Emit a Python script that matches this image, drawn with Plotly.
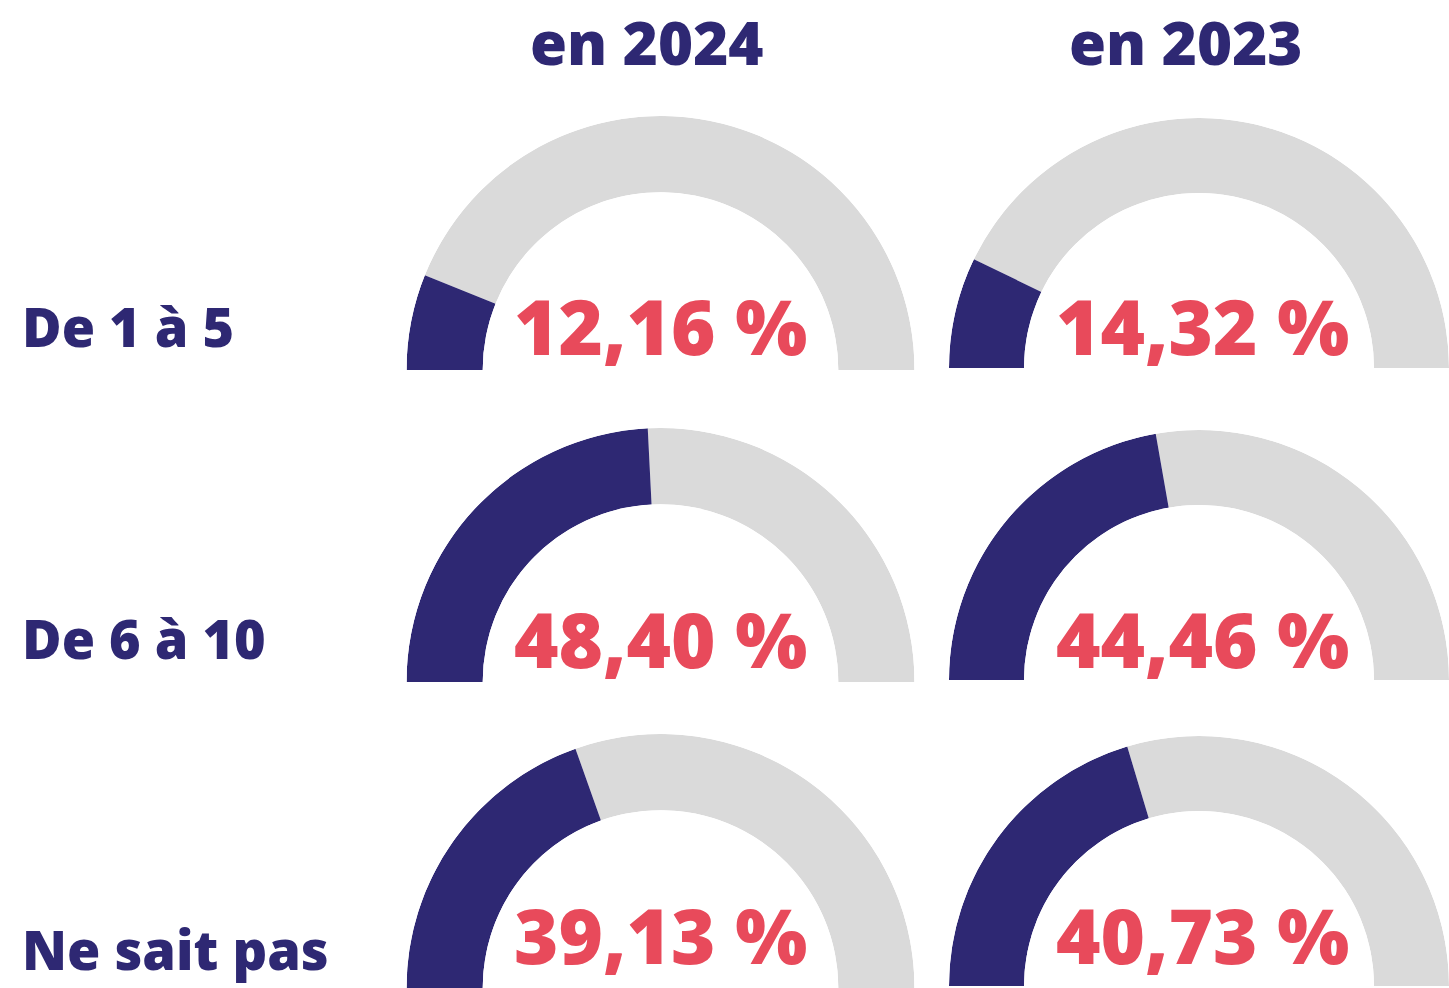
import plotly.graph_objects as go

# ---- data ----
row_labels = ["De 1 à 5", "De 6 à 10", "Ne sait pas"]
col_titles = ["en 2024", "en 2023"]
values_2024 = [12.16, 48.40, 39.13]
values_2023 = [14.32, 44.46, 40.73]

# ---- style / layout constants ----
W, H = 1449, 988
NAVY = "#2E2873"
RED = "#E84A5B"
GREY = "#DADADA"
FONT = "Open Sans"

col_x = [(406.5, 914.5), (949.0, 1449.0)]      # gauge horizontal extents (px)
row_base = [370.0, 682.0, 988.0]                # gauge baseline (px)
radius = 254.0
label_y = [326, 638, None]
title_x = [647, 1186]
title_y = 42
pct_x = [660, 1202]
pct_y = [326, 638, None]


def px_x(x):
    return x / W


def px_y(y):
    return 1 - y / H


fig = go.Figure()
series = [values_2024, values_2023]
k = 0
for c, vals in enumerate(series):
    for r, v in enumerate(vals):
        k += 1
        pname = "polar" if k == 1 else f"polar{k}"
        x0, x1 = col_x[c]
        y1 = row_base[r]
        y0 = max(y1 - radius, 0)
        # value arc from the left end, rest in grey
        span = 1.8 * v
        fig.add_trace(go.Barpolar(
            r=[1], theta=[(180 - span) / 2], width=[180 - span], base=[0],
            marker=dict(color=GREY, line=dict(width=0)),
            subplot=pname, showlegend=False, hoverinfo="skip"))
        fig.add_trace(go.Barpolar(
            r=[1], theta=[180 - span / 2], width=[span], base=[0],
            marker=dict(color=NAVY, line=dict(width=0)),
            subplot=pname, showlegend=False, hovertemplate=f"{v:.2f} %<extra></extra>"))
        fig.update_layout(**{pname: dict(
            domain=dict(x=[px_x(x0), px_x(x1)], y=[px_y(y1), px_y(y0)]),
            sector=[0, 180], hole=0.70, bgcolor="rgba(0,0,0,0)",
            barmode="overlay",
            radialaxis=dict(visible=False, range=[0, 1]),
            angularaxis=dict(visible=False, rotation=0, direction="counterclockwise"),
        )})
        if pct_y[r] is None:
            ay, yanc = 0, "bottom"
        else:
            ay, yanc = px_y(pct_y[r]), "middle"
        fig.add_annotation(
            x=px_x(pct_x[c]), y=ay, xref="paper", yref="paper",
            text=f"{v:.2f}".replace(".", ",") + " %", showarrow=False,
            xanchor="center", yanchor=yanc,
            font=dict(family=FONT, size=76, color=RED, weight=800))

for r, lab in enumerate(row_labels):
    if label_y[r] is None:
        ay, yanc = 0, "bottom"
    else:
        ay, yanc = px_y(label_y[r]), "middle"
    fig.add_annotation(
        x=px_x(20), y=ay, xref="paper", yref="paper",
        text=lab, showarrow=False, xanchor="left", yanchor=yanc,
        font=dict(family=FONT, size=54, color=NAVY, weight=800))

for c, t in enumerate(col_titles):
    fig.add_annotation(
        x=px_x(title_x[c]), y=px_y(title_y), xref="paper", yref="paper",
        text=t, showarrow=False, xanchor="center", yanchor="middle",
        font=dict(family=FONT, size=60, color=NAVY, weight=800))

fig.update_layout(
    width=W, height=H,
    margin=dict(l=0, r=0, t=0, b=0),
    paper_bgcolor="white", plot_bgcolor="white",
    showlegend=False,
)

fig.write_html(
    "out.html",
    config={"displayModeBar": False},
    post_script="document.body.style.margin='0';document.body.style.overflow='hidden';",
)
